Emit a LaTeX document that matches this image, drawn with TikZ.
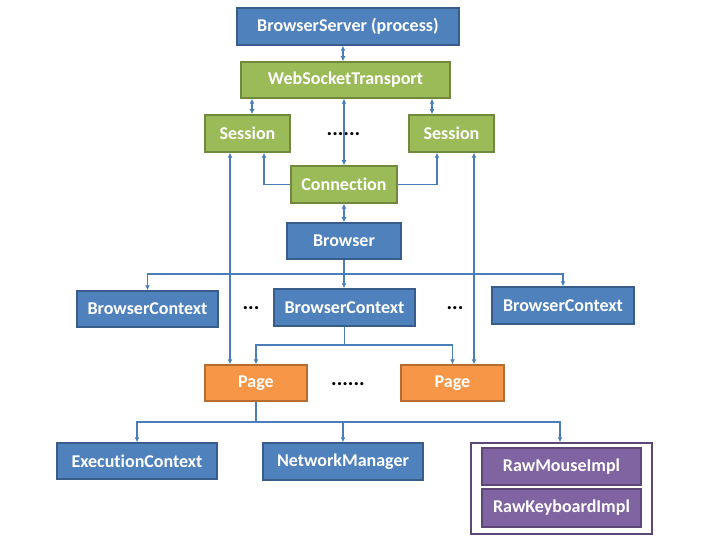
\documentclass[tikz,border=0pt]{standalone}
\usepackage{fontspec}
\setmainfont{Carlito}[Ligatures=NoCommon]
\usetikzlibrary{arrows.meta}
\definecolor{bfill}{HTML}{4F81BD}
\definecolor{bdraw}{HTML}{385D8A}
\definecolor{gfill}{HTML}{9BBB59}
\definecolor{gdraw}{HTML}{71893F}
\definecolor{ofill}{HTML}{F79646}
\definecolor{odraw}{HTML}{B66D31}
\definecolor{pfill}{HTML}{8064A2}
\definecolor{pdraw}{HTML}{5C4776}
\definecolor{lcol}{HTML}{4A7EBB}
\tikzset{
  box/.style={draw, line width=1.5pt, text=white, inner sep=0pt,
    font=\fontsize{18}{20}\selectfont\bfseries, anchor=center},
  bluebox/.style={box, fill=bfill, draw=bdraw},
  greenbox/.style={box, fill=gfill, draw=gdraw},
  orangebox/.style={box, fill=ofill, draw=odraw},
  purplebox/.style={box, fill=pfill, draw=pdraw},
  wh/.style 2 args={minimum width=#1pt, minimum height=#2pt},
  conn/.style={draw=lcol, line width=1.6pt, -{Latex[length=5pt,width=5pt]}},
  dconn/.style={draw=lcol, line width=1.6pt, {Latex[length=5pt,width=5pt]}-{Latex[length=5pt,width=5pt]}},
  plain/.style={draw=lcol, line width=1.6pt},
  dotstxt/.style={font=\fontsize{21}{22}\selectfont\bfseries, text=black, inner sep=0pt}
}
\begin{document}
\begin{tikzpicture}[x=1pt,y=-1pt]
\useasboundingbox (0,0) rectangle (720,540);
% nodes
\node[bluebox, wh={222}{37}] (bs) at (348,26.5) {BrowserServer (process)};
\node[greenbox, wh={209}{36}] (wst) at (345.5,80) {WebSocketTransport};
\node[greenbox, wh={85}{37}] (s1) at (247.5,133.5) {Session};
\node[greenbox, wh={85}{37}] (s2) at (451.5,133.5) {Session};
\node[greenbox, wh={106}{37}] (cn) at (344,184.5) {Connection};
\node[bluebox, wh={114}{36}] (br) at (344,241) {Browser};
\node[bluebox, wh={141}{36}] (bc1) at (147.5,309) {BrowserContext};
\node[bluebox, wh={141}{37}] (bc2) at (344.5,307.5) {BrowserContext};
\node[bluebox, wh={142}{37}] (bc3) at (563,305.5) {BrowserContext};
\node[orangebox, wh={102}{36}] (p1) at (256,383) {Page};
\node[orangebox, wh={103}{36}] (p2) at (452.5,383) {Page};
\node[bluebox, wh={160}{36}] (ec) at (137,461) {ExecutionContext};
\node[bluebox, wh={160}{37}] (nm) at (343,461.5) {NetworkManager};
\node[draw=pdraw, line width=1.5pt, fill=white, minimum width=181pt, minimum height=91pt, inner sep=0pt] (grp) at (561.5,488.5) {};
\node[purplebox, wh={159}{37}] (rm) at (561.5,466.5) {RawMouseImpl};
\node[purplebox, wh={159}{38}] (rk) at (561.5,508) {RawKeyboardImpl};
% dots
\node[dotstxt] (d1) at (343.5,134) {......};
\node[dotstxt] (d2) at (251,308) {...};
\node[dotstxt] (d3) at (455,308) {...};
\node[dotstxt] (d4) at (348,384.5) {......};
% junctions
\coordinate (j1) at (344,274);
\coordinate (j2) at (344.5,345);
\coordinate (j3) at (256,422);
% connectors
\draw[dconn] ([xshift=-5pt]bs.south) -- ([xshift=-5pt]bs.south |- wst.north);
\draw[dconn] ([xshift=4.5pt]s1.north) -- ([xshift=4.5pt]s1.north |- wst.south);
\draw[dconn] ([xshift=-19.5pt]s2.north) -- ([xshift=-19.5pt]s2.north |- wst.south);
\draw[dconn] (cn.north) -- (cn.north |- wst.south);
\draw[conn] (cn.west) -| ([xshift=16.5pt]s1.south);
\draw[conn] (cn.east) -| ([xshift=-14.5pt]s2.south);
\draw[dconn] (cn.south) -- (cn.south |- br.north);
\draw[dconn] ([xshift=-17.5pt]s1.south) -- ([xshift=-17.5pt]s1.south |- p1.north);
\draw[dconn] ([xshift=22.5pt]s2.south) -- ([xshift=22.5pt]s2.south |- p2.north);
\draw[plain] (br.south) -- (j1);
\draw[conn] (j1) -| (bc1.north);
\draw[conn] (j1) -- (j1 |- bc2.north);
\draw[conn] (j1) -| (bc3.north);
\draw[plain] (bc2.south) -- (j2);
\draw[conn] (j2) -| (p1.north);
\draw[conn] (j2) -| (p2.north);
\draw[plain] (p1.south) -- (j3);
\draw[conn] (j3) -| (ec.north);
\draw[conn] (j3) -| (nm.north);
\draw[conn] (j3) -| ([xshift=-1.5pt]grp.north);
\end{tikzpicture}
\end{document}
